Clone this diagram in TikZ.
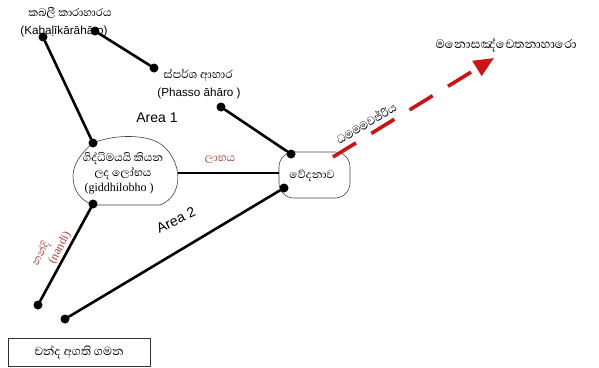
\documentclass[tikz,border=0pt]{standalone}
\usepackage{fontspec}
\setmainfont{Liberation Serif}
\newfontfamily\sinfont[Script=Sinhala]{Abhaya Libre}
\newfontfamily\arialfont{Liberation Sans}
\usetikzlibrary{arrows.meta}
\definecolor{txtred}{RGB}{185,60,60}
\definecolor{arrred}{RGB}{205,20,20}
\tikzset{
  dot/.style={circle,fill=black,inner sep=0pt,minimum size=9pt},
  conn/.style={line width=2.6pt,line cap=round},
  shapeline/.style={draw=black!75,line width=0.6pt},
  lbl/.style={inner sep=0pt,align=center},
}
\begin{document}
\begin{tikzpicture}[x=1pt,y=-1pt]
\useasboundingbox (0,0) rectangle (599,367);
% shapes
\draw[shapeline] (93,143) .. controls (115,134) and (148,134) .. (162,145)
  .. controls (183,162) and (184,196) .. (160,205) -- (93,205)
  .. controls (80,200) and (73,190) .. (73,176)
  .. controls (73,164) and (82,152) .. (93,143) -- cycle;
\draw[shapeline,rounded corners=15] (279,152) rectangle (350,198);
% dots
\node[dot] (k1) at (43,37) {};
\node[dot] (k2) at (95,31) {};
\node[dot] (p1) at (154,68) {};
\node[dot] (p2) at (221,107) {};
\node[dot] (g1) at (93,143) {};
\node[dot] (g2) at (93,204) {};
\node[dot] (v1) at (291,154) {};
\node[dot] (v2) at (284,188) {};
\node[dot] (n1) at (38,305) {};
\node[dot] (a1) at (65,319) {};
\coordinate (gr) at (178,173);
\coordinate (vl) at (279,173);
\coordinate (as) at (333,157);
\coordinate (ae) at (494,58);
% connectors
\draw[conn] (k1) -- (g1);
\draw[conn] (k2) -- (p1);
\draw[conn] (p2) -- (v1);
\draw[conn] (g2) -- (n1);
\draw[conn] (a1) -- (v2);
\draw[line width=1.6pt] (gr) -- (vl);
\draw[arrred,line width=3.6pt,dash pattern=on 27pt off 18pt,-{Triangle[length=20pt,width=17pt]}] (as) -- (ae);
% texts
\node[lbl,font=\sinfont\fontsize{14}{16}\selectfont] (t1) at (70,13) {කබලී කාරාහාරය};
\node[lbl,font=\arialfont\fontsize{11.7}{13}\selectfont] (t2) at (64,31) {(Kabaḷīkārāhāro)};
\node[lbl,font=\sinfont\fontsize{14.5}{16}\selectfont] (t3) at (198,75) {ස්පර්ශ ආහාර};
\node[lbl,font=\arialfont\fontsize{11.7}{13}\selectfont] (t4) at (199,93) {(Phasso āhāro )};
\node[lbl,font=\arialfont\fontsize{14}{16}\selectfont] (t5) at (157,118) {Area 1};
\node[lbl,font=\arialfont\fontsize{14}{16}\selectfont,rotate=25] (t6) at (176,220) {Area 2};
\node[lbl,font=\sinfont\fontsize{14}{15.5}\selectfont] (t7) at (123,166) {ගිද්ධිමයයි කියන\\ලද ලෝභය};
\node[lbl,font=\fontsize{12}{14}\selectfont] (t8) at (119,189) {(giddhilobho )};
\node[lbl,font=\sinfont\fontsize{14}{16}\selectfont,text=txtred] (t9) at (220,160) {ලාභය};
\node[lbl,font=\sinfont\fontsize{14}{16}\selectfont] (t10) at (312,176) {වේදනාව};
\node[lbl,font=\sinfont\fontsize{14.5}{16}\selectfont,rotate=31] (t11) at (366,123) {ධමමමවජ්රිය};
\node[lbl,font=\sinfont\fontsize{15.5}{17}\selectfont] (t12) at (506,45) {මනොසඤ්චෙතනාහාරො};
\node[lbl,font=\sinfont\fontsize{13}{15}\selectfont,text=txtred,rotate=62] (t13) at (41,254) {නන්දි};
\node[lbl,font=\fontsize{12}{14}\selectfont,text=txtred,rotate=62] (t14) at (60,248) {(nandi)};
\node[draw=black!80,line width=0.6pt,minimum width=142pt,minimum height=28pt,inner sep=0pt,font=\sinfont\fontsize{15}{17}\selectfont] (b1) at (79,352) {චන්ද අගති ගමන};
\end{tikzpicture}
\end{document}
